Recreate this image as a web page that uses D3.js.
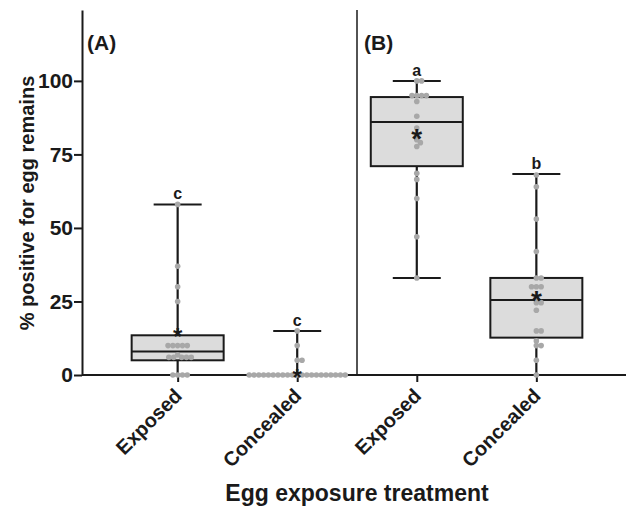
<!DOCTYPE html>
<html><head><meta charset="utf-8">
<script src="https://cdn.jsdelivr.net/npm/d3@7"></script>
<style>
body{margin:0;background:#fff;}
text{font-family:"Liberation Sans",Arial,sans-serif;font-weight:bold;fill:#1a1a1a;}
</style></head>
<body>
<svg id="chart" width="626" height="507"></svg>
<script>
// ---- data ----
const groups = ["A-Exposed","A-Concealed","B-Exposed","B-Concealed"];
const groupLabels = ["Exposed","Concealed","Exposed","Concealed"];
const panels = ["(A)","(B)"];
const yTicks = [0,25,50,75,100];
const q1 = [5, 0, 71, 12.7];
const median = [8, 0, 86, 25.5];
const q3 = [13.5, 0, 94.5, 33];
const whiskerLow = [0, 0, 33, 0];
const whiskerHigh = [58, 15, 100, 68.3];
const means = [14, 0, 81.6, 26.6];
const letters = ["c","c","a","b"];
const ptsAExposed = [58,37,30,25,10,10,10,10,10,6.8,6,6,6,6,6,0,0,0,0];
const ptsAConcealed = [15,10,5,5,0,0,0,0,0,0,0,0,0,0,0,0,0,0,0,0,0,0,0,0,0];
const ptsBExposed = [100,100,95,95,95,95,93,88,84,80,79,77.7,68.6,66.5,60,47,33];
const ptsBConcealed = [68,64,53,42,33,33,30,30,30,26.3,24.6,24.6,22,15,15,11.6,10,10,5,0];
const points = [ptsAExposed, ptsAConcealed, ptsBExposed, ptsBConcealed];

// ---- layout ----
const svg = d3.select("#chart");
const x0 = 82, yBase = 375, yTop = 10, xRight = 626;
const x = d3.scalePoint().domain(groups).range([x0, 632]).padding(0.8);
const y = d3.scaleLinear().domain([0, 124.1]).range([yBase, yTop]);
const ink = "#1a1a1a";
const FF = "'Liberation Sans',Arial,sans-serif";
const boxHalf = 46, capHalf = 24, r = 2.8, sep = 4.6;

// y axis
const yAxis = svg.append("g").attr("transform",`translate(${x0},0)`)
  .call(d3.axisLeft(y).tickValues(yTicks).tickSize(8).tickSizeOuter(0).tickPadding(1));
yAxis.attr("font-size","21").attr("font-family",FF).attr("font-weight","bold");
yAxis.select(".domain").attr("stroke",ink).attr("stroke-width",2);
yAxis.selectAll(".tick line").attr("stroke",ink).attr("stroke-width",2);
yAxis.selectAll(".tick text").attr("font-size","21").style("font-size","21px").attr("fill",ink)
  .style("font-family",FF).style("font-weight","bold");

// x axis
const xAxis = svg.append("g").attr("transform",`translate(0,${yBase})`)
  .call(d3.axisBottom(x).tickSize(7).tickSizeOuter(0).tickFormat((d,i)=>groupLabels[i]));
xAxis.attr("font-size","20").attr("font-family",FF).attr("font-weight","bold");
xAxis.select(".domain").remove();
svg.append("line").attr("x1",x0).attr("x2",xRight).attr("y1",yBase).attr("y2",yBase)
  .attr("stroke",ink).attr("stroke-width",2);
xAxis.selectAll(".tick line").attr("stroke",ink).attr("stroke-width",2);
xAxis.selectAll(".tick text")
  .style("font-size","20px").style("font-family",FF).style("font-weight","bold")
  .attr("fill",ink).attr("text-anchor","end").attr("y",0).attr("dy",0)
  .attr("transform","translate(5,22) rotate(-45)");

// divider
const xDiv = (x(groups[1]) + x(groups[2]))/2;
svg.append("line").attr("x1",xDiv).attr("x2",xDiv).attr("y1",yTop).attr("y2",yBase)
  .attr("stroke",ink).attr("stroke-width",1.5);

// panel labels
svg.append("text").attr("x",x0+5).attr("y",50).style("font-size","21px").text(panels[0]);
svg.append("text").attr("x",xDiv+7).attr("y",50).style("font-size","21px").text(panels[1]);

// titles
svg.append("text").attr("transform",`translate(34,203) rotate(-90)`)
  .attr("text-anchor","middle").style("font-size","20px").text("% positive for egg remains");
svg.append("text").attr("x",357).attr("y",501).attr("text-anchor","middle")
  .style("font-size","23px").text("Egg exposure treatment");

// beeswarm offsets
function swarm(vals){
  const order = vals.map((v,i)=>i).sort((a,b)=>vals[b]-vals[a]);
  const placed = [];
  const off = new Array(vals.length).fill(0);
  order.forEach(i=>{
    const py = y(vals[i]);
    let best = 0;
    for(let k=0;k<400;k++){
      const cand = (k%2===1?1:-1)*Math.ceil(k/2)*0.4;
      const ok = placed.every(p=>{const dx=p.x-cand, dy=p.y-py; return dx*dx+dy*dy >= sep*sep;});
      if(ok){best=cand;break;}
    }
    off[i]=best; placed.push({x:best,y:py});
  });
  return off;
}

groups.forEach((g,i)=>{
  const cx = x(g);
  const G = svg.append("g");
  // whisker
  G.append("line").attr("x1",cx).attr("x2",cx).attr("y1",y(whiskerLow[i])).attr("y2",y(whiskerHigh[i]))
    .attr("stroke",ink).attr("stroke-width",2.2);
  [whiskerLow[i], whiskerHigh[i]].forEach(v=>{
    G.append("line").attr("x1",cx-capHalf).attr("x2",cx+capHalf).attr("y1",y(v)).attr("y2",y(v))
      .attr("stroke",ink).attr("stroke-width",2);
  });
  // box
  if(q3[i] > q1[i]){
    G.append("rect").attr("x",cx-boxHalf).attr("width",2*boxHalf)
      .attr("y",y(q3[i])).attr("height",y(q1[i])-y(q3[i]))
      .attr("fill","#dcdcdc").attr("stroke",ink).attr("stroke-width",2);
    G.append("line").attr("x1",cx-boxHalf).attr("x2",cx+boxHalf).attr("y1",y(median[i])).attr("y2",y(median[i]))
      .attr("stroke",ink).attr("stroke-width",2);
  }
  // points
  const offs = swarm(points[i]);
  G.selectAll("circle").data(points[i]).join("circle")
    .attr("cx",(d,j)=>cx+offs[j]).attr("cy",d=>y(d)).attr("r",r).attr("fill","#a8a8a8");
  // mean star
  G.append("text").attr("x",cx).attr("y",y(means[i])).attr("dy","0.47em")
    .attr("text-anchor","middle").style("font-size",i<2?"24px":"28px").text("*");
  // letter
  G.append("text").attr("x",cx).attr("y",y(whiskerHigh[i])-5).attr("text-anchor","middle")
    .style("font-size","16px").text(letters[i]);
});
</script>
</body></html>
